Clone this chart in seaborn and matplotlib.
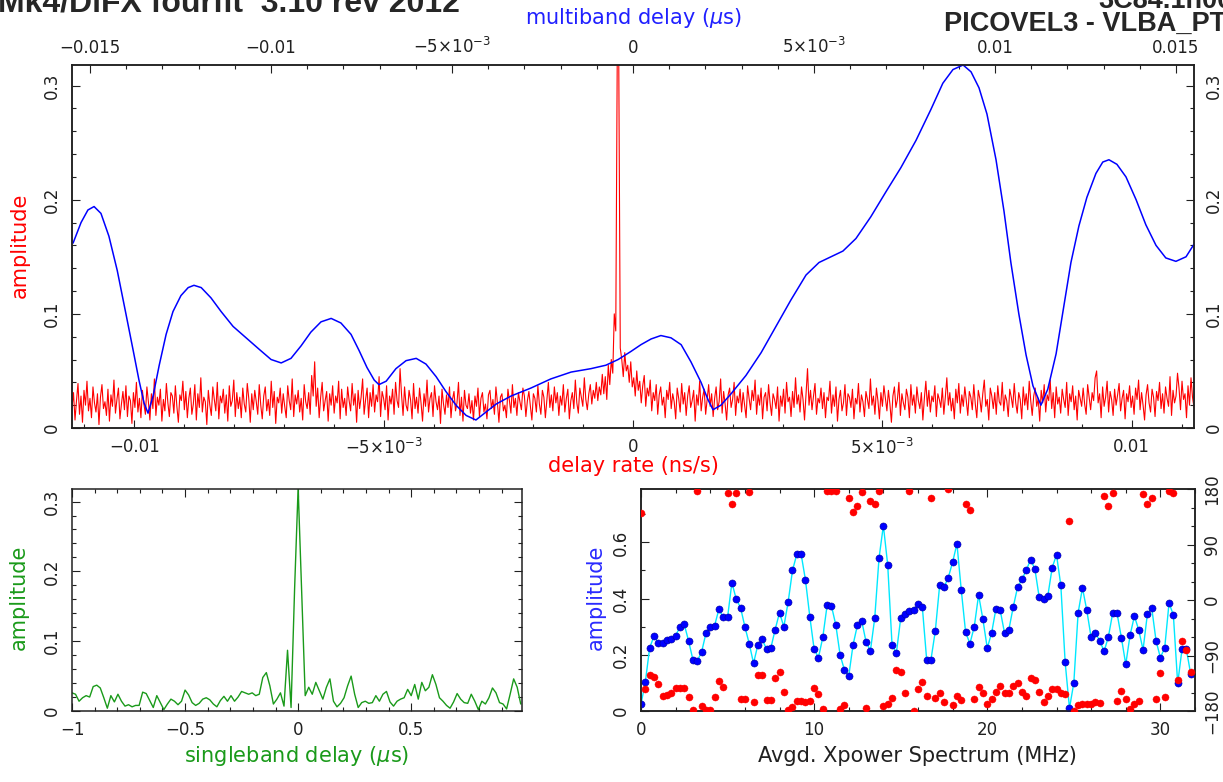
import numpy as np
import matplotlib
matplotlib.use("Agg")
import matplotlib.pyplot as plt
from matplotlib.ticker import MultipleLocator
import seaborn as sns

# ---- delay rate (red, top panel), amplitude in units of 1e-3, evenly sampled
rate_min, rate_max = -0.01125, 0.01125
rate_amp_milli = [
    18, 31, 7, 24, 39, 12, 28, 5, 33, 20, 41, 15, 26, 9, 36, 22, 14, 30, 3, 27, 38, 17, 23, 11, 34,
    6, 29, 19, 42, 13, 25, 35, 8, 21, 32, 16, 37, 10, 28, 24, 4, 31, 18, 40, 14, 26, 9, 33, 21, 12,
    36, 23, 7, 30, 17, 43, 11, 27, 20, 34, 6, 25, 15, 39, 22, 10, 31, 28, 13, 37, 19, 5, 29, 24, 41,
    16, 32, 9, 26, 35, 12, 21, 38, 7, 30, 18, 44, 14, 27, 23, 3, 33, 20, 11, 36, 25, 15, 40, 8, 28,
    22, 34, 13, 29, 6, 37, 19, 24, 42, 10, 31, 17, 27, 9, 35, 21, 14, 39, 26, 5, 30, 16, 33, 23, 12,
    38, 20, 8, 28, 36, 15, 25, 11, 41, 18, 32, 4, 27, 22, 35, 13, 30, 19, 9, 37, 24, 16, 43, 10, 29,
    21, 33, 14, 26, 7, 38, 23, 17, 31, 12, 46, 28, 58, 19, 35, 9, 27, 40, 15, 24, 32, 6, 30, 20, 37,
    13, 28, 22, 41, 8, 34, 18, 26, 11, 36, 24, 15, 39, 20, 30, 5, 33, 17, 27, 43, 12, 25, 35, 9, 31,
    19, 38, 14, 29, 23, 45, 10, 32, 26, 16, 37, 7, 28, 21, 34, 12, 40, 24, 18, 52, 29, 11, 36, 20, 15,
    33, 25, 8, 39, 17, 27, 13, 35, 22, 6, 30, 19, 42, 14, 26, 31, 10, 37, 23, 16, 28, 4, 34, 21, 12,
    29, 18, 36, 9, 25, 32, 15, 22, 40, 11, 27, 6, 33, 20, 17, 30, 13, 24, 7, 28, 19, 35, 10, 26, 31,
    14, 21, 8, 29, 33, 17, 25, 12, 36, 22, 5, 27, 30, 15, 20, 9, 34, 24, 13, 38, 18, 26, 11, 31, 23,
    16, 35, 28, 10, 24, 32, 19, 7, 30, 26, 14, 37, 21, 12, 33, 27, 9, 25, 40, 18, 29, 15, 36, 22, 31,
    11, 28, 20, 38, 14, 26, 34, 8, 24, 31, 17, 42, 22, 13, 35, 27, 19, 44, 25, 16, 30, 38, 21, 33, 26,
    40, 24, 36, 29, 47, 30, 45, 25, 55, 38, 60, 48, 100, 85, 330, 320, 70, 60, 45, 66, 50, 55, 40, 58, 36,
    44, 28, 50, 33, 41, 22, 37, 46, 19, 35, 28, 42, 15, 31, 24, 38, 12, 29, 36, 20, 27, 9, 33, 25, 40,
    17, 30, 23, 8, 35, 26, 14, 39, 21, 31, 11, 28, 37, 18, 24, 33, 6, 29, 20, 41, 15, 27, 34, 12, 25,
    38, 19, 30, 10, 26, 36, 16, 23, 43, 13, 32, 21, 7, 29, 35, 18, 25, 40, 11, 28, 22, 34, 14, 31, 20,
    9, 37, 26, 16, 33, 24, 42, 12, 29, 20, 35, 8, 27, 31, 15, 38, 22, 11, 30, 25, 17, 36, 6, 28, 19,
    34, 13, 40, 23, 27, 10, 32, 18, 44, 21, 29, 14, 36, 25, 7, 30, 52, 20, 33, 16, 28, 39, 12, 26, 22,
    35, 17, 31, 9, 27, 24, 41, 13, 29, 19, 36, 6, 25, 33, 15, 22, 38, 11, 30, 27, 18, 34, 8, 26, 21,
    39, 14, 29, 23, 10, 32, 25, 17, 43, 20, 28, 12, 35, 24, 8, 31, 19, 37, 26, 15, 33, 21, 5, 28, 36,
    18, 25, 40, 11, 30, 22, 16, 34, 27, 9, 38, 20, 29, 13, 36, 24, 17, 31, 7, 26, 41, 19, 33, 14, 28,
    23, 37, 10, 30, 25, 18, 35, 12, 27, 44, 20, 31, 15, 26, 8, 34, 22, 39, 13, 29, 19, 36, 24, 11, 32,
    27, 16, 38, 21, 9, 33, 26, 14, 30, 42, 19, 25, 7, 35, 28, 17, 31, 12, 37, 23, 20, 40, 15, 29, 24,
    10, 34, 27, 18, 39, 22, 13, 31, 25, 8, 36, 20, 30, 16, 41, 24, 11, 28, 35, 19, 26, 6, 33, 22, 38,
    14, 29, 24, 42, 17, 31, 9, 36, 21, 27, 13, 34, 25, 18, 40, 11, 30, 23, 37, 16, 28, 7, 33, 26, 19,
    35, 21, 12, 38, 27, 16, 31, 24, 44, 50, 22, 30, 9, 36, 19, 27, 41, 14, 32, 25, 11, 34, 20, 29, 39,
    15, 26, 33, 8, 30, 23, 37, 18, 28, 12, 35, 25, 42, 16, 31, 20, 7, 29, 38, 22, 14, 34, 27, 10, 32,
    24, 40, 17, 30, 13, 36, 26, 19, 45, 11, 33, 22, 28, 48, 35, 16, 41, 25, 30, 9, 37, 20, 44, 27, 18,
]

# ---- multiband delay (blue, top panel), delay in microseconds
mbd_delay = [
    -0.01547, -0.01525, -0.01506, -0.01489, -0.01470, -0.01448, -0.01425, -0.01401, -0.01381,
    -0.01365, -0.01351, -0.01340, -0.01326, -0.01309, -0.01290, -0.01271, -0.01249, -0.01229,
    -0.01213, -0.01193, -0.01166, -0.01138, -0.01105, -0.01069, -0.01033, -0.01000, -0.00972,
    -0.00945, -0.00917, -0.00890, -0.00862, -0.00834, -0.00807, -0.00779, -0.00757, -0.00735,
    -0.00715, -0.00702, -0.00682, -0.00655, -0.00627, -0.00599, -0.00572, -0.00544, -0.00517,
    -0.00489, -0.00461, -0.00434, -0.00406, -0.00378, -0.00337, -0.00282, -0.00227, -0.00171,
    -0.00116, -0.00075, -0.00041, -0.00006, 0.00022, 0.00050, 0.00077, 0.00105, 0.00133,
    0.00160, 0.00188, 0.00207, 0.00221, 0.00243, 0.00271, 0.00312, 0.00354, 0.00395, 0.00436,
    0.00478, 0.00514, 0.00547, 0.00580, 0.00616, 0.00657, 0.00699, 0.00740, 0.00782, 0.00823,
    0.00856, 0.00884, 0.00912, 0.00934, 0.00956, 0.00978, 0.01003, 0.01025, 0.01044, 0.01066,
    0.01086, 0.01105, 0.01127, 0.01146, 0.01169, 0.01191, 0.01210, 0.01232, 0.01254, 0.01279,
    0.01298, 0.01315, 0.01337, 0.01362, 0.01390, 0.01417, 0.01445, 0.01472, 0.01500, 0.01528,
    0.01552,
]
mbd_amp = [
    0.162, 0.180, 0.191, 0.194, 0.188, 0.168, 0.138, 0.100, 0.068,
    0.042, 0.022, 0.013, 0.028, 0.055, 0.082, 0.102, 0.116, 0.123,
    0.125, 0.123, 0.114, 0.102, 0.089, 0.079, 0.069, 0.060, 0.057,
    0.061, 0.072, 0.084, 0.093, 0.096, 0.092, 0.082, 0.068, 0.053,
    0.042, 0.038, 0.041, 0.052, 0.059, 0.061, 0.056, 0.045, 0.032,
    0.020, 0.011, 0.007, 0.014, 0.021, 0.028, 0.035, 0.043, 0.049,
    0.052, 0.055, 0.060, 0.067, 0.073, 0.078, 0.081, 0.079, 0.073,
    0.058, 0.040, 0.025, 0.016, 0.020, 0.030, 0.046, 0.066, 0.089, 0.112,
    0.134, 0.145, 0.150, 0.155, 0.166, 0.185, 0.207, 0.228, 0.252, 0.279,
    0.302, 0.314, 0.318, 0.312, 0.298, 0.275, 0.235, 0.190, 0.145, 0.100,
    0.064, 0.037, 0.020, 0.034, 0.065, 0.108, 0.145, 0.177, 0.202, 0.223,
    0.233, 0.235, 0.231, 0.220, 0.200, 0.178, 0.160, 0.149, 0.146, 0.150,
    0.162,
]

# ---- singleband delay (green, bottom left)
sbd_start, sbd_step = -1.0, 1 / 64
sbd_amp = [
    0.026, 0.024, 0.014, 0.019, 0.022, 0.020, 0.035, 0.037, 0.033, 0.019, 0.004, 0.022, 0.013,
    0.024, 0.014, 0.007, 0.009, 0.006, 0.008, 0.008, 0.027, 0.025, 0.015, 0.005, 0.022, 0.012,
    0.002, 0.010, 0.017, 0.014, 0.009, 0.014, 0.030, 0.023, 0.012, 0.008, 0.011, 0.017, 0.019,
    0.016, 0.010, 0.006, 0.015, 0.021, 0.014, 0.022, 0.014, 0.020, 0.028, 0.026, 0.024, 0.026,
    0.022, 0.024, 0.048, 0.055, 0.036, 0.010, 0.017, 0.026, 0.007, 0.087, 0.005, 0.175, 0.320,
    0.172, 0.022, 0.034, 0.024, 0.041, 0.029, 0.017, 0.034, 0.046, 0.014, 0.006, 0.011, 0.019,
    0.036, 0.050, 0.024, 0.005, 0.012, 0.014, 0.011, 0.012, 0.022, 0.014, 0.024, 0.028, 0.013,
    0.007, 0.014, 0.017, 0.019, 0.031, 0.022, 0.038, 0.017, 0.041, 0.029, 0.034, 0.052, 0.038,
    0.019, 0.014, 0.008, 0.004, 0.013, 0.025, 0.017, 0.012, 0.011, 0.024, 0.014, 0.002, 0.014,
    0.010, 0.019, 0.033, 0.026, 0.012, 0.010, 0.003, 0.024, 0.046, 0.034, 0.010,
]

# ---- averaged cross-power spectrum (bottom right)
spec_step = 0.25
spec_amp = [
    0.024, 0.103, 0.225, 0.266, 0.243, 0.241, 0.251, 0.256, 0.268, 0.299, 0.308, 0.249, 0.182,
    0.178, 0.210, 0.276, 0.299, 0.304, 0.362, 0.333, 0.333, 0.457, 0.398, 0.368, 0.300, 0.240,
    0.170, 0.235, 0.255, 0.220, 0.224, 0.290, 0.350, 0.300, 0.388, 0.500, 0.558, 0.558, 0.466,
    0.336, 0.220, 0.190, 0.262, 0.376, 0.374, 0.307, 0.200, 0.146, 0.125, 0.236, 0.305, 0.320,
    0.246, 0.214, 0.330, 0.545, 0.660, 0.520, 0.236, 0.206, 0.330, 0.345, 0.355, 0.358, 0.380,
    0.370, 0.183, 0.183, 0.285, 0.447, 0.440, 0.475, 0.530, 0.595, 0.430, 0.280, 0.240, 0.300,
    0.413, 0.326, 0.224, 0.277, 0.363, 0.358, 0.277, 0.290, 0.370, 0.440, 0.468, 0.500, 0.539,
    0.506, 0.405, 0.400, 0.410, 0.510, 0.556, 0.447, 0.173, 0.010, 0.100, 0.350, 0.438, 0.358,
    0.262, 0.277, 0.250, 0.212, 0.265, 0.350, 0.347, 0.260, 0.166, 0.270, 0.338, 0.288, 0.218,
    0.345, 0.367, 0.250, 0.190, 0.225, 0.384, 0.342, 0.098, 0.220, 0.220, 0.132,
]
spec_phase = [
    141, -145, -122, -125, -136, -155, -154, -150, -142, -143, -143, -157, -178, 176, -172, -178,
    -178, -157, -131, -141, 173, 155, 173, -161, -161, 175, -166, -122, -122, -162, -162, -127,
    -117, -149, -178, -174, -163, -164, -166, -164, -143, -152, -177, 176, 177, 177, -177, -170,
    165, 143, 153, 175, -175, 160, 156, 176, -172, -169, -159, -114, -117, -150, 177, -180,
    -144, -133, -156, 166, -159, -150, -165, 180, -170, -156, -162, 156, 146, -161, -141, -150,
    -168, -161, -149, -140, -151, -151, -139, -134, -149, -156, -127, -129, -149, -166, -156, -144,
    -144, -150, -152, 128, -180, -171, -168, -169, -169, -165, -167, 168, 152, 173, -164, -147,
    -161, -177, -168, -163, 172, 156, 166, -161, -119, -158, 176, 174, -129, -66, -81, -117,
]

W, H = 1223, 782
rate = np.linspace(rate_min, rate_max, len(rate_amp_milli))
rate_amp = np.array(rate_amp_milli) / 1000.0
sbd_delay = sbd_start + sbd_step * np.arange(len(sbd_amp))
spec_freq = spec_step * np.arange(len(spec_amp))

sns.set_style("ticks")
plt.rcParams["font.family"] = ["DejaVu Sans"]
plt.rcParams["mathtext.fontset"] = "dejavusans"

INK = "#202020"
RED = "#ff0000"
BLUE = "#0000ff"
GREEN = "#1a9a1a"


def box(x0, y0, x1, y1):
    return [x0 / W, 1 - y1 / H, (x1 - x0) / W, (y1 - y0) / H]


def px(x, y):
    return x / W, 1 - y / H


def style(a):
    a.tick_params(which="both", direction="in", width=0.8, colors=INK, labelsize=12)
    a.tick_params(which="major", length=6)
    a.tick_params(which="minor", length=3)
    for s in a.spines.values():
        s.set_linewidth(1.1)
        s.set_color(INK)
    a.set_xlabel("")
    a.set_ylabel("")


def rot_y(a):
    for lab in a.get_yticklabels():
        lab.set_rotation(90)
        lab.set_va("center")


fig = plt.figure(figsize=(W / 100, H / 100), dpi=100)

# ---------------- top panel
ax = fig.add_axes(box(72, 65, 1194, 428))
sns.lineplot(x=rate, y=rate_amp, ax=ax, color=RED, lw=0.8, estimator=None, sort=False)
ax.set_xlim(rate_min, rate_max)
ax.set_ylim(0, 0.318)
ax_mbd = ax.twiny()
sns.lineplot(x=mbd_delay, y=mbd_amp, ax=ax_mbd, color=BLUE, lw=1.1, estimator=None, sort=False)
ax_mbd.set_xlim(-0.0155, 0.0155)
ax.set_ylim(0, 0.318)

ax.set_xticks([-0.01, -0.005, 0, 0.005, 0.01],
              ["\u22120.01", r"$-5{\times}10^{-3}$", "0", r"$5{\times}10^{-3}$", "0.01"])
ax.xaxis.set_minor_locator(MultipleLocator(0.001))
ax.set_yticks([0, 0.1, 0.2, 0.3], ["0", "0.1", "0.2", "0.3"])
ax.yaxis.set_minor_locator(MultipleLocator(0.02))
ax_mbd.set_xticks([-0.015, -0.01, -0.005, 0, 0.005, 0.01, 0.015],
                  ["\u22120.015", "\u22120.01", r"$-5{\times}10^{-3}$", "0",
                   r"$5{\times}10^{-3}$", "0.01", "0.015"])
ax_mbd.xaxis.set_minor_locator(MultipleLocator(0.001))
style(ax)
style(ax_mbd)
ax.tick_params(axis="y", which="both", left=True, right=True, labelleft=True, labelright=True)
ax.tick_params(axis="y", pad=8)
ax.tick_params(axis="x", pad=7)
ax_mbd.tick_params(axis="x", pad=6)

fig.text(*px(20, 245), "amplitude", color=RED, fontsize=15, rotation=90, ha="center", va="center")
fig.text(*px(633, 466), "delay rate (ns/s)", color=RED, fontsize=15, ha="center", va="center")
fig.text(*px(633, 18), r"multiband delay ($\mu$s)", color="#2020ff", fontsize=15,
         ha="center", va="center")

# ---------------- singleband delay
ax_sbd = fig.add_axes(box(72, 489, 522, 711))
sns.lineplot(x=sbd_delay, y=sbd_amp, ax=ax_sbd, color=GREEN, lw=1.0, estimator=None, sort=False)
ax_sbd.set_xlim(-1, 0.99)
ax_sbd.set_ylim(0, 0.318)
ax_sbd.set_xticks([-1, -0.5, 0, 0.5], ["\u22121", "\u22120.5", "0", "0.5"])
ax_sbd.xaxis.set_minor_locator(MultipleLocator(0.1))
ax_sbd.set_yticks([0, 0.1, 0.2, 0.3], ["0", "0.1", "0.2", "0.3"])
ax_sbd.yaxis.set_minor_locator(MultipleLocator(0.02))
style(ax_sbd)
ax_sbd.tick_params(which="both", top=True, right=True)
ax_sbd.tick_params(axis="y", pad=8)
ax_sbd.tick_params(axis="x", pad=7)
fig.text(*px(19, 597), "amplitude", color=GREEN, fontsize=15, rotation=90, ha="center", va="center")
fig.text(*px(297, 756), r"singleband delay ($\mu$s)", color=GREEN, fontsize=15,
         ha="center", va="center")

# ---------------- cross-power spectrum
ax_sp = fig.add_axes(box(641, 489, 1195, 711))
sns.lineplot(x=spec_freq, y=spec_amp, ax=ax_sp, color="#00e8ff", lw=1.0, estimator=None, sort=False)
sns.scatterplot(x=spec_freq, y=spec_amp, ax=ax_sp, color=BLUE, s=26, edgecolor="#0000a0",
                linewidth=0.4, zorder=3)
ax_sp.set_xlim(0, 32)
ax_sp.set_ylim(0, 0.79)
ax_ph = ax_sp.twinx()
sns.scatterplot(x=spec_freq, y=spec_phase, ax=ax_ph, color=RED, s=26, edgecolor=RED,
                linewidth=0.3, zorder=3)
ax_ph.set_ylim(-180, 180)
ax_sp.set_xticks([0, 10, 20, 30], ["0", "10", "20", "30"])
ax_sp.xaxis.set_minor_locator(MultipleLocator(2))
ax_sp.set_yticks([0, 0.2, 0.4, 0.6], ["0", "0.2", "0.4", "0.6"])
ax_sp.yaxis.set_minor_locator(MultipleLocator(0.1))
ax_ph.set_yticks([-180, -90, 0, 90, 180], ["\u2212180", "\u221290", "0", "90", "180"])
ax_ph.yaxis.set_minor_locator(MultipleLocator(30))
style(ax_sp)
style(ax_ph)
ax_sp.tick_params(axis="x", which="both", top=True)
ax_sp.tick_params(axis="y", pad=8)
ax_sp.tick_params(axis="x", pad=7)
ax_ph.tick_params(axis="y", pad=6)
fig.text(*px(596, 597), "amplitude", color="#2a2aff", fontsize=15, rotation=90,
         ha="center", va="center")
fig.text(*px(917, 756), "Avgd. Xpower Spectrum (MHz)", color=INK, fontsize=15,
         ha="center", va="center")

for a in (ax, ax_sbd, ax_sp, ax_ph):
    rot_y(a)

# ---------------- header (clipped at the top edge, as in the original)
fig.text(*px(-2, 12), "Mk4/DiFX fourfit  3.10 rev 2012", fontsize=23, fontweight="bold",
         family=["Liberation Sans", "DejaVu Sans"], ha="left", va="baseline")
fig.text(*px(1098, 8), "3C84.1h00GB", fontsize=19.5, fontweight="bold",
         family=["Liberation Sans", "DejaVu Sans"], ha="left", va="baseline")
fig.text(*px(1226, 31), "PICOVEL3 - VLBA_PT", fontsize=19.5, fontweight="bold",
         family=["Liberation Sans", "DejaVu Sans"], ha="right", va="baseline")

fig.savefig("out.png", dpi=100)
